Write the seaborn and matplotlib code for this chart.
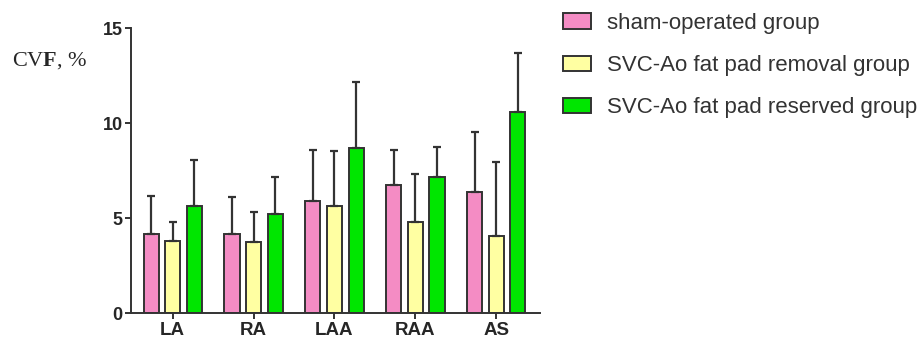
import numpy as np
import pandas as pd
import matplotlib
matplotlib.use("Agg")
import matplotlib.pyplot as plt
import seaborn as sns

# Cardiac regions and group labels
regions = ["LA", "RA", "LAA", "RAA", "AS"]
groups = ["sham-operated group",
          "SVC-Ao fat pad removal group",
          "SVC-Ao fat pad reserved group"]

# Mean CVF (%) per region for each group
sham_mean = [4.2, 4.2, 5.9, 6.75, 6.4]
removal_mean = [3.8, 3.75, 5.65, 4.8, 4.05]
reserved_mean = [5.65, 5.25, 8.7, 7.2, 10.6]

# Upper end of the error bar (mean + SD)
sham_upper = [6.15, 6.1, 8.6, 8.6, 9.55]
removal_upper = [4.8, 5.35, 8.55, 7.35, 7.95]
reserved_upper = [8.05, 7.15, 12.2, 8.75, 13.7]

yticks = [0, 5, 10, 15]
palette = ["#F48CC4", "#FFFFA2", "#00E600"]

means = [sham_mean, removal_mean, reserved_mean]
uppers = [sham_upper, removal_upper, reserved_upper]

df = pd.DataFrame({
    "region": regions * 3,
    "group": np.repeat(groups, len(regions)),
    "cvf": np.concatenate(means),
})

sns.set_style("white")
plt.rcParams["font.family"] = ["Liberation Sans", "DejaVu Sans"]
plt.rcParams["mathtext.fontset"] = "custom"
plt.rcParams["mathtext.rm"] = "Liberation Serif"
plt.rcParams["mathtext.bf"] = "Liberation Serif:bold"

fig = plt.figure(figsize=(9.23, 3.44), dpi=100)
ax = fig.add_axes([131 / 923, 1 - 313.3 / 344, (540 - 131) / 923, (313.3 - 28.3) / 344])

sns.barplot(data=df, x="region", y="cvf", hue="group", hue_order=groups,
            order=regions, palette=palette, saturation=1, width=0.8, gap=0.3,
            errorbar=None, edgecolor="#333333", linewidth=1.4, ax=ax)

# Upper-only SD whiskers on each bar
for cont, mvals, uvals in zip(ax.containers, means, uppers):
    for bar, m, u in zip(cont, mvals, uvals):
        xc = bar.get_x() + bar.get_width() / 2
        ax.errorbar(xc, m, yerr=[[0], [u - m]], fmt="none", ecolor="#333333",
                    elinewidth=1.6, capsize=2.8, capthick=1.6, zorder=1)

ax.set_xlim(-0.515, 4.54)
ax.set_ylim(0, 15)
ax.set_yticks(yticks)
ax.set_yticklabels([str(t) for t in yticks], fontsize=13, fontweight="bold")
ax.set_xticks(range(len(regions)))
ax.set_xticklabels(regions, fontsize=13.5, fontweight="bold")
ax.set_xlabel("")
ax.set_ylabel("")

for side in ["top", "right"]:
    ax.spines[side].set_visible(False)
for side in ["left", "bottom"]:
    ax.spines[side].set_color("#333333")
    ax.spines[side].set_linewidth(1.4)
ax.tick_params(axis="y", left=True, length=4, width=1.4, color="#333333", pad=2)
ax.tick_params(axis="x", bottom=True, length=4, width=1.4, color="#333333", pad=2)

fig.text(12 / 923, 1 - 61 / 344, r"CV$\mathbf{F}$, %", fontsize=16,
         family="Liberation Serif", va="center", ha="left")

handles, labels = ax.get_legend_handles_labels()
ax.legend(handles, labels, loc="upper left",
          bbox_to_anchor=(563 / 923, 1 - 13 / 344),
          bbox_transform=fig.transFigure, frameon=False, fontsize=16,
          handlelength=1.28, handleheight=0.7, handletextpad=0.72,
          labelspacing=0.95, borderpad=0, borderaxespad=0)
for t in ax.get_legend().get_texts():
    t.set_color("#333333")

fig.savefig("out.png", dpi=100)
